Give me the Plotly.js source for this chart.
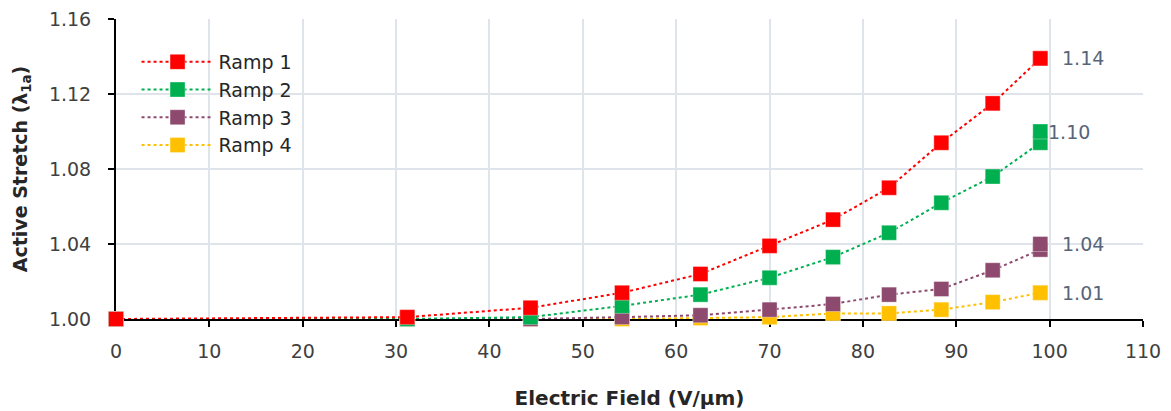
<!DOCTYPE html>
<html>
<head>
<meta charset="utf-8">
<script src="https://cdn.plot.ly/plotly-3.0.1.min.js"></script>
<style>html,body{margin:0;padding:0;background:#fff;}#chart{width:1171px;height:411px;}</style>
</head>
<body>
<div id="chart"></div>
<script>
// Electric field (V/µm) sample points
const field = [0, 31.2, 44.4, 54.2, 62.6, 70.0, 76.8, 82.8, 88.4, 93.9, 99.0, 99.0];
// Active stretch values per ramp
const ramp1 = [1.000, 1.001, 1.006, 1.014, 1.024, 1.039, 1.053, 1.070, 1.094, 1.115, 1.139, 1.139];
const ramp2 = [1.000, 1.000, 1.001, 1.007, 1.013, 1.022, 1.033, 1.046, 1.062, 1.076, 1.094, 1.100];
const ramp3 = [1.000, 1.000, 1.000, 1.001, 1.002, 1.005, 1.008, 1.013, 1.016, 1.026, 1.037, 1.040];
const ramp4 = [1.000, 1.000, 1.000, 1.000, 1.0005, 1.001, 1.003, 1.003, 1.005, 1.009, 1.014, 1.014];
const seriesNames = ["Ramp 1", "Ramp 2", "Ramp 3", "Ramp 4"];
const seriesColors = ["#ff0000", "#00b050", "#8e4a6e", "#ffc000"];
const endLabels = ["1.14", "1.10", "1.04", "1.01"];
const endLabelY = [1.139, 1.100, 1.040, 1.014];
const endLabelShift = [20, 6, 20, 20];

const allSeries = [ramp1, ramp2, ramp3, ramp4];
const FONT = "DejaVu Sans, sans-serif";

const traces = allSeries.map((vals, i) => ({
  x: field,
  y: vals,
  name: seriesNames[i],
  type: "scatter",
  mode: "lines+markers",
  cliponaxis: false,
  line: {color: seriesColors[i], width: 2, dash: "dot"},
  marker: {symbol: "square", size: 15, color: seriesColors[i],
           line: {color: "rgba(255,255,255,0.35)", width: 1}}
})).reverse();

const annotations = endLabels.map((t, i) => ({
  x: 99.0, y: endLabelY[i], xref: "x", yref: "y",
  text: t, showarrow: false, xanchor: "left", yanchor: "middle",
  xshift: endLabelShift[i],
  font: {family: FONT, size: 19, color: "#56657a"}
}));

const layout = {
  width: 1171, height: 411,
  margin: {l: 116, r: 28, t: 19, b: 92, pad: 0},
  paper_bgcolor: "#ffffff", plot_bgcolor: "#ffffff",
  font: {family: FONT, size: 19, color: "#404040"},
  showlegend: true,
  legend: {
    x: 0.02, y: 0.92, xanchor: "left", yanchor: "top",
    traceorder: "reversed",
    bgcolor: "rgba(255,255,255,0)",
    font: {family: FONT, size: 19, color: "#262626"},
    itemwidth: 72
  },
  xaxis: {
    range: [0, 110], dtick: 10, tick0: 0,
    showgrid: true, gridcolor: "#dfe3ea", gridwidth: 2,
    showline: true, linecolor: "#000000", linewidth: 2,
    ticks: "outside", ticklen: 6, tickwidth: 2, tickcolor: "#000000",
    ticklabelstandoff: 8,
    zeroline: false, layer: "below traces", automargin: false,
    tickfont: {family: FONT, size: 19, color: "#404040"},
    title: {text: "Electric Field (V/μm)", standoff: 30,
            font: {family: FONT, size: 20, color: "#262626", weight: "bold"}}
  },
  yaxis: {
    range: [1.0, 1.16], dtick: 0.04, tick0: 1.0, tickformat: ".2f",
    showgrid: true, gridcolor: "#dfe3ea", gridwidth: 2,
    showline: true, linecolor: "#000000", linewidth: 2,
    ticks: "outside", ticklen: 6, tickwidth: 2, tickcolor: "#000000",
    ticklabelstandoff: 13,
    zeroline: false, layer: "below traces", automargin: false,
    tickfont: {family: FONT, size: 19, color: "#404040"},
    title: {text: "Active Stretch (λ<sub>1a</sub>)", standoff: 16,
            font: {family: FONT, size: 19, color: "#262626", weight: "bold"}}
  },
  annotations: annotations
};

Plotly.newPlot("chart", traces, layout, {displayModeBar: false, staticPlot: true});
</script>
</body>
</html>
